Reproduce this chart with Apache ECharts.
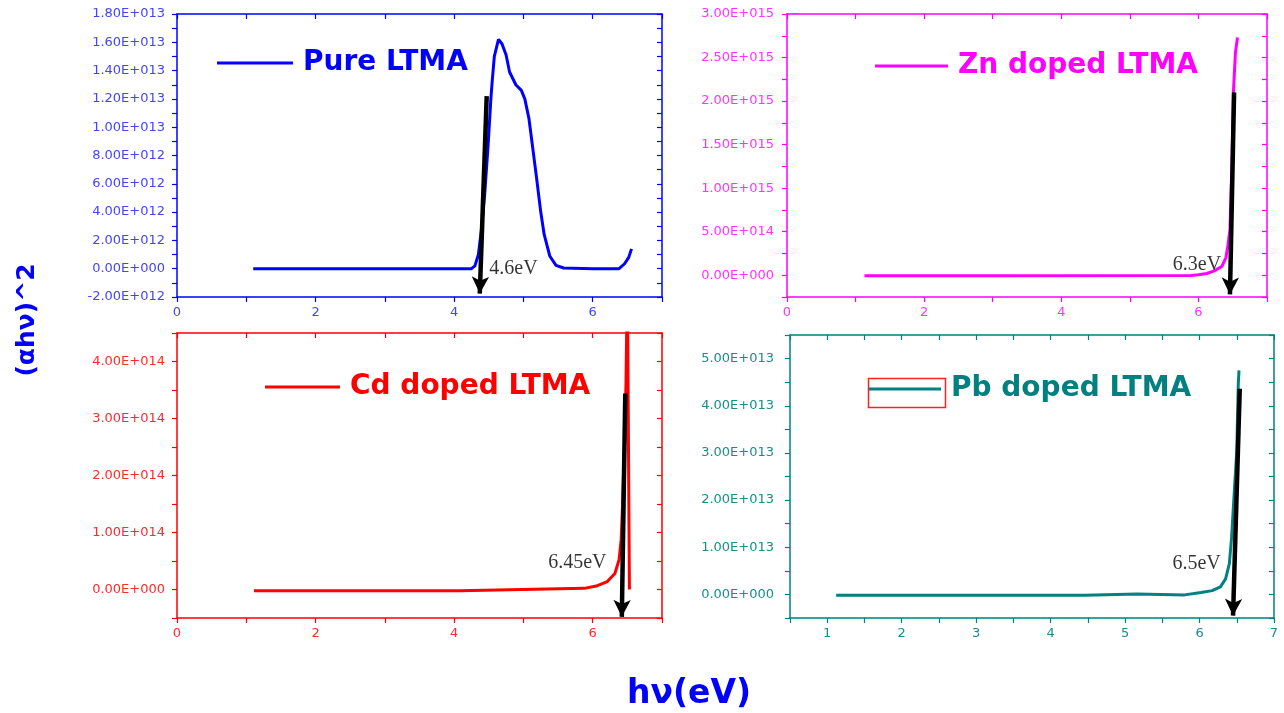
<!DOCTYPE html>
<html><head><meta charset="utf-8">
<script src="https://cdn.jsdelivr.net/npm/echarts@6/dist/echarts.min.js"></script>
<style>html,body{margin:0;padding:0;background:#fff}#c{width:1284px;height:713px}</style>
</head><body><div id="c"></div>
<script>
// ---------- data ----------
const seriesNames = ['Pure LTMA', 'Zn doped LTMA', 'Cd doped LTMA', 'Pb doped LTMA'];

const pureX = [1.1, 2.0, 3.0, 4.0, 4.25, 4.3, 4.35, 4.39, 4.44, 4.49, 4.53, 4.55, 4.58, 4.64, 4.69, 4.75, 4.8, 4.89, 4.97, 5.02, 5.08, 5.13, 5.19, 5.25, 5.3, 5.38, 5.47, 5.58, 6.0, 6.38, 6.46, 6.52, 6.56];
const pureY = [0, 0, 0, 0, 0, 0.2e12, 1.0e12, 2.6e12, 5.2e12, 8.7e12, 12.0e12, 13.3e12, 15.0e12, 16.2e12, 15.9e12, 15.1e12, 13.9e12, 13.0e12, 12.6e12, 12.0e12, 10.6e12, 8.7e12, 6.4e12, 4.0e12, 2.4e12, 0.9e12, 0.24e12, 0.05e12, 0, 0, 0.35e12, 0.8e12, 1.4e12];

const znX = [1.13, 3.0, 5.89, 6.0, 6.12, 6.23, 6.34, 6.4, 6.43, 6.46, 6.49, 6.51, 6.54, 6.57];
const znY = [-0.005e15, -0.005e15, -0.003e15, 0.005e15, 0.02e15, 0.05e15, 0.1e15, 0.2e15, 0.34e15, 0.53e15, 1.33e15, 2.1e15, 2.56e15, 2.73e15];

const cdX = [1.11, 4.08, 4.09, 5.88, 6.05, 6.21, 6.32, 6.38, 6.41, 6.43, 6.46, 6.48, 6.5, 6.52, 6.53];
const cdY = [-0.02e14, -0.02e14, 0.01e14, 0.02e14, 0.06e14, 0.14e14, 0.28e14, 0.52e14, 0.87e14, 1.46e14, 2.6e14, 3.6e14, 5.5e14, 5.5e14, 0.0];

const pbX = [1.12, 4.46, 4.47, 5.16, 5.17, 5.8, 6.02, 6.17, 6.28, 6.35, 6.4, 6.43, 6.46, 6.5, 6.52, 6.53];
const pbY = [-0.02e13, -0.02e13, 0.01e13, 0.01e13, -0.02e13, -0.01e13, 0.04e13, 0.08e13, 0.16e13, 0.33e13, 0.65e13, 1.2e13, 2.0e13, 3.05e13, 4.45e13, 4.75e13];

// tangent arrows: [start, end(tip)]
const pureArrow = [[4.47, 1.22e13], [4.37, -1.76e12]];
const znArrow = [[6.52, 2.1e15], [6.46, -2.2e14]];
const cdArrow = [[6.47, 3.44e14], [6.42, -4.8e13]];
const pbArrow = [[6.54, 4.36e13], [6.45, -4.5e12]];

// band-gap annotations
const gapLabels = ['4.6eV', '6.3eV', '6.45eV', '6.5eV'];
const gapLabelPos = [[4.5, 0], [5.62, 1.26e14], [5.35, 0.47e14], [5.63, 0.66e13]];

// axis ranges / ticks
const xRanges = [[0, 7, 1, 2], [0, 7, 1, 2], [0, 7, 1, 2], [0.5, 7, 0.5, 1]]; // min, max, tick interval, label step
const yRanges = [[-2e12, 1.8e13, 1e12, 2e12], [-2.5e14, 3e15, 2.5e14, 5e14], [-5e13, 4.5e14, 5e13, 1e14], [-5e12, 5.5e13, 5e12, 1e13]];

const yTitle = '(αhν)^2';
const xTitle = 'hν(eV)';

// ---------- styling / layout ----------
const lineColors = ['#0000ff', '#ff00ff', '#ff0000', '#008080'];
const labelColors = ['#4444ff', '#ff33ff', '#ff2a2a', '#1a8c8c'];
const yLabelMargin = [12, 13, 12, 16];
const grids = [
  {left: 177, top: 14, width: 485, height: 283},
  {left: 787, top: 14, width: 480, height: 283},
  {left: 177, top: 333, width: 485, height: 285},
  {left: 790, top: 335, width: 484, height: 283}
];
const legendPos = [
  {left: 217, top: 49, itemWidth: 76},
  {left: 875, top: 52, itemWidth: 73},
  {left: 265, top: 373, itemWidth: 75},
  {left: 868, top: 375, itemWidth: 73}
];

function sci(v) {
  if (Math.abs(v) < 1) return '0.00E+000';
  const s = v < 0 ? '-' : '';
  const a = Math.abs(v);
  let e = Math.floor(Math.log10(a));
  let m = a / Math.pow(10, e);
  if (m >= 9.995) { m /= 10; e += 1; }
  if (m < 0.9995) { m *= 10; e -= 1; }
  return s + m.toFixed(2) + 'E+' + String(e).padStart(3, '0');
}
function isStep(v, step) {
  const r = v / step;
  return Math.abs(r - Math.round(r)) < 1e-6;
}
function zip(xs, ys) { return xs.map((x, i) => [x, ys[i]]); }

const curves = [zip(pureX, pureY), zip(znX, znY), zip(cdX, cdY), zip(pbX, pbY)];
const arrows = [pureArrow, znArrow, cdArrow, pbArrow];

const xAxis = [], yAxis = [], series = [], legend = [];
const tickFont = 'DejaVu Sans';

for (let i = 0; i < 4; i++) {
  const c = lineColors[i], lc = labelColors[i];
  const [xmin, xmax, xint, xstep] = xRanges[i];
  const [ymin, ymax, yint, ystep] = yRanges[i];
  const axLine = {show: true, onZero: false, lineStyle: {color: c, width: 1.5}};
  // bottom
  xAxis.push({
    type: 'value', gridIndex: i, position: 'bottom', min: xmin, max: xmax, interval: xint,
    axisLine: axLine, splitLine: {show: false},
    axisTick: {show: true, inside: false, length: 5, lineStyle: {color: c, width: 1.2}},
    axisLabel: {show: true, color: lc, fontSize: 13, fontFamily: tickFont, margin: 9,
      showMinLabel: true, showMaxLabel: true,
      formatter: v => isStep(v, xstep) ? String(Math.round(v)) : ''}
  });
  // top
  xAxis.push({
    type: 'value', gridIndex: i, position: 'top', min: xmin, max: xmax, interval: xint,
    axisLine: axLine, splitLine: {show: false},
    axisTick: {show: true, inside: true, length: 5, lineStyle: {color: c, width: 1.2}},
    axisLabel: {show: false}
  });
  // left
  yAxis.push({
    type: 'value', gridIndex: i, position: 'left', min: ymin, max: ymax, interval: yint,
    axisLine: axLine, splitLine: {show: false},
    axisTick: {show: true, inside: false, length: 5, lineStyle: {color: c, width: 1.2}},
    axisLabel: {show: true, color: lc, fontSize: 13, fontFamily: tickFont, margin: yLabelMargin[i],
      formatter: v => isStep(v, ystep) ? sci(v) : ''}
  });
  // right
  yAxis.push({
    type: 'value', gridIndex: i, position: 'right', min: ymin, max: ymax, interval: yint,
    axisLine: axLine, splitLine: {show: false},
    axisTick: {show: true, inside: true, length: 5, lineStyle: {color: c, width: 1.2}},
    axisLabel: {show: false}
  });

  series.push({
    name: seriesNames[i], type: 'line', xAxisIndex: 2 * i, yAxisIndex: 2 * i,
    data: curves[i], symbol: 'none', showSymbol: false, smooth: false, clip: true,
    lineStyle: {color: c, width: 3}, itemStyle: {color: c},
    z: 2
  });
  series.push({
    name: 'tangent' + i, type: 'line', xAxisIndex: 2 * i, yAxisIndex: 2 * i,
    data: [], symbol: 'none', z: 3,
    markLine: {
      silent: true, symbol: ['none', 'arrow'], symbolSize: [13, 17],
      label: {show: false},
      lineStyle: {color: '#000', width: 4.5, type: 'solid'},
      data: [[{coord: arrows[i][0]}, {coord: arrows[i][1]}]],
      animation: false
    }
  });
  series.push({
    name: 'gap' + i, type: 'scatter', xAxisIndex: 2 * i, yAxisIndex: 2 * i,
    data: [gapLabelPos[i]], symbolSize: 1, itemStyle: {color: 'rgba(0,0,0,0)'}, z: 4,
    label: {show: true, position: 'right', distance: 0, formatter: gapLabels[i],
      color: '#000', fontSize: 20, fontFamily: 'Liberation Serif'}
  });

  legend.push({
    show: true, data: [{name: seriesNames[i], icon: 'rect'}], left: legendPos[i].left, top: legendPos[i].top,
    orient: 'horizontal', padding: 0, selectedMode: false,
    itemWidth: legendPos[i].itemWidth, itemHeight: 3,
    itemStyle: {color: c},
    textStyle: {color: c, fontSize: 28, fontWeight: 'bold', fontFamily: 'DejaVu Sans', padding: [0, 0, 0, 5]}
  });
}

const option = {
  animation: false,
  backgroundColor: '#ffffff',
  grid: grids.map(g => Object.assign({show: false, containLabel: false, outerBoundsMode: 'none'}, g)),
  xAxis, yAxis, series, legend,
  graphic: [
    {type: 'rect', left: 866, top: 376, shape: {width: 77, height: 29},
      style: {fill: 'none', stroke: '#ff2020', lineWidth: 1.5}, z: 100},
    {type: 'text', x: 27, y: 320, rotation: Math.PI / 2,
      style: {text: yTitle, fill: '#0000ff', font: 'bold 25px "DejaVu Sans"', align: 'center', verticalAlign: 'middle'}},
    {type: 'text', x: 689, y: 694,
      style: {text: xTitle, fill: '#0000ff', font: 'bold 33px "DejaVu Sans"', align: 'center', verticalAlign: 'middle'}}
  ]
};

const chart = echarts.init(document.getElementById('c'), null, {renderer: 'canvas'});
chart.setOption(option);
</script>
</body></html>
